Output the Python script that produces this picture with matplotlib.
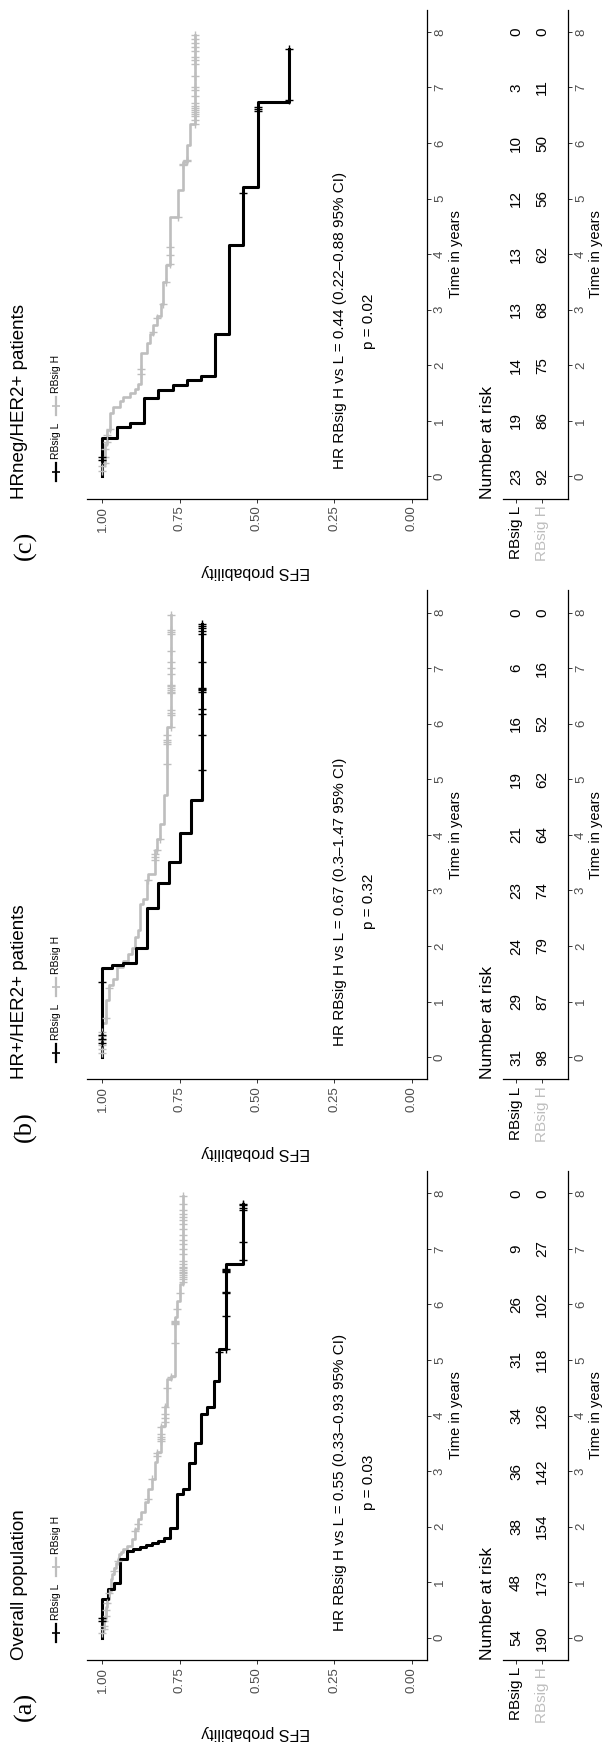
import numpy as np
import matplotlib
matplotlib.use("Agg")
import matplotlib.pyplot as plt
from matplotlib.lines import Line2D

plt.rcParams['font.family'] = ['Liberation Sans', 'DejaVu Sans']

# ---------------- data ----------------
years = [0, 1, 2, 3, 4, 5, 6, 7, 8]
groups = ["RBsig L", "RBsig H"]

# (a) overall population
a_L_t = [0.70, 0.88, 0.98, 1.42, 1.57, 1.60, 1.64, 1.67, 1.71, 1.75, 1.80, 1.97, 2.58, 2.67,
         3.14, 3.50, 4.03, 4.16, 4.63, 5.20, 6.73]
a_L_s = [0.981, 0.962, 0.943, 0.922, 0.901, 0.879, 0.860, 0.841, 0.820, 0.801, 0.782, 0.760,
         0.739, 0.720, 0.701, 0.682, 0.661, 0.640, 0.622, 0.601, 0.545]
a_L_cens = [0.30, 0.35, 5.15, 5.20, 5.80, 6.20, 6.23, 6.58, 6.60, 6.62, 6.64, 6.79, 7.12,
            7.70, 7.74, 7.78, 7.81]
a_H_t = [0.15, 0.35, 0.55, 0.70, 0.85, 1.05, 1.15, 1.25, 1.35, 1.42, 1.50, 1.55, 1.60, 1.65,
         1.78, 1.96, 2.14, 2.26, 2.44, 2.68, 2.86, 3.16, 3.34, 3.82, 4.18, 4.66, 4.72, 5.77,
         6.07, 6.37]
a_H_s = [0.995, 0.989, 0.984, 0.979, 0.973, 0.968, 0.962, 0.957, 0.951, 0.945, 0.940, 0.934,
         0.920, 0.906, 0.895, 0.884, 0.876, 0.862, 0.852, 0.841, 0.830, 0.823, 0.812, 0.798,
         0.791, 0.777, 0.766, 0.760, 0.750, 0.739]
a_H_cens = [0.08, 0.15, 0.22, 0.30, 0.40, 0.50, 0.62, 0.80, 1.20, 1.38, 1.92, 2.05, 2.50,
            2.85, 3.28, 3.33, 3.55, 3.58, 3.62, 3.66, 3.80, 3.88, 3.95, 4.02, 4.15, 4.50,
            4.70, 5.30, 5.64, 5.66, 5.68, 5.70, 5.92, 6.20, 6.40, 6.45, 6.50, 6.53, 6.56,
            6.59, 6.62, 6.65, 6.68, 6.72, 6.78, 6.90, 7.00, 7.08, 7.15, 7.25, 7.35, 7.45,
            7.52, 7.58, 7.62, 7.70, 7.80, 7.95]
a_risk_L = [54, 48, 38, 36, 34, 31, 26, 9, 0]
a_risk_H = [190, 173, 154, 142, 126, 118, 102, 27, 0]

# (b) HR+/HER2+
b_L_t = [1.60, 1.65, 1.69, 1.97, 2.68, 3.14, 3.51, 4.03, 4.62]
b_L_s = [0.968, 0.935, 0.892, 0.855, 0.820, 0.784, 0.750, 0.715, 0.677]
b_L_cens = [0.25, 0.32, 0.40, 1.36, 5.16, 5.80, 6.18, 6.27, 6.58, 6.60, 6.62, 6.64, 7.11,
            7.62, 7.67, 7.72, 7.76, 7.80]
b_H_t = [0.62, 1.02, 1.30, 1.40, 1.62, 1.73, 1.85, 1.97, 2.16, 2.28, 2.76, 2.85, 3.18, 3.30,
         3.72, 3.93, 4.20, 4.71, 5.94]
b_H_s = [0.990, 0.980, 0.966, 0.954, 0.933, 0.917, 0.906, 0.895, 0.884, 0.877, 0.870, 0.855,
         0.852, 0.830, 0.823, 0.814, 0.801, 0.791, 0.777]
b_H_cens = [0.08, 0.15, 0.22, 0.30, 0.38, 0.45, 0.70, 1.25, 3.18, 3.54, 3.60, 3.66, 3.72,
            3.93, 5.28, 5.64, 5.67, 5.70, 5.79, 5.94, 6.15, 6.20, 6.25, 6.55, 6.58, 6.61,
            6.64, 6.67, 6.70, 6.90, 7.00, 7.11, 7.30, 7.62, 7.65, 7.68, 7.95]
b_risk_L = [31, 29, 24, 23, 21, 19, 16, 6, 0]
b_risk_H = [98, 87, 79, 74, 64, 62, 52, 16, 0]

# (c) HRneg/HER2+
c_L_t = [0.69, 0.89, 0.97, 1.42, 1.56, 1.65, 1.74, 1.80, 2.56, 4.16, 5.21, 6.74]
c_L_s = [0.954, 0.911, 0.866, 0.820, 0.773, 0.728, 0.682, 0.636, 0.591, 0.545, 0.496, 0.397]
c_L_cens = [0.30, 0.35, 5.11, 6.58, 6.62, 6.65, 6.77, 7.70]
c_H_t = [0.23, 0.58, 0.83, 1.14, 1.25, 1.35, 1.43, 1.50, 1.57, 1.66, 2.23, 2.41, 2.56, 2.72,
         2.88, 3.11, 3.50, 3.80, 4.67, 5.15, 5.66, 5.96, 6.35]
c_H_s = [0.992, 0.985, 0.976, 0.965, 0.944, 0.933, 0.911, 0.895, 0.884, 0.874, 0.855, 0.847,
         0.836, 0.823, 0.812, 0.804, 0.793, 0.782, 0.755, 0.741, 0.728, 0.717, 0.699]
c_H_cens = [0.10, 0.18, 0.25, 0.35, 0.50, 0.62, 0.75, 0.85, 1.84, 1.93, 2.60, 2.85, 3.11,
            3.50, 3.83, 3.98, 4.13, 4.67, 5.60, 5.63, 5.67, 5.70, 6.35, 6.42, 6.48, 6.52,
            6.56, 6.60, 6.63, 6.67, 6.72, 6.85, 6.95, 7.00, 7.20, 7.42, 7.50, 7.55, 7.65,
            7.72, 7.80, 7.88, 7.95]
c_risk_L = [23, 19, 14, 13, 13, 12, 10, 3, 0]
c_risk_H = [92, 86, 75, 68, 62, 56, 50, 11, 0]

letters = ["(c)", "(b)", "(a)"]
titles = ["HRneg/HER2+ patients", "HR+/HER2+ patients", "Overall population"]
hr_labels = ["HR RBsig H vs L = 0.44 (0.22\u20130.88 95% CI)",
             "HR RBsig H vs L = 0.67 (0.3\u20131.47 95% CI)",
             "HR RBsig H vs L = 0.55 (0.33\u20130.93 95% CI)"]
p_labels = ["p = 0.02", "p = 0.32", "p = 0.03"]

# ---------------- layout (pixels, figure is drawn already rotated) ----------------
W, H = 606, 1742
PH = H / 3.0
GREY = "#BEBEBE"
TXT = "#4D4D4D"

fig = plt.figure(figsize=(W / 100, H / 100), dpi=100)
fig.patch.set_facecolor("white")


def fx(x):
    return x / W


def fy(y):
    return 1 - y / H


def km_line(ax, t, s, cens, color, lw):
    t = np.asarray(t)
    s = np.asarray(s)
    cens = np.asarray(cens)
    t_end = max(cens.max(), t.max())
    xs = np.r_[1.0, s, s[-1]]
    ys = np.r_[0.0, t, t_end]
    ax.plot(xs, ys, color=color, lw=lw, drawstyle="steps-pre", zorder=3)
    idx = np.searchsorted(t, cens, side="right")
    sc = np.r_[1.0, s][idx]
    ax.plot(sc, cens, ls="none", marker="+", ms=5.5, mew=1.0, color=color, zorder=4)


def style_axes(ax):
    ax.patch.set_alpha(0)
    for side in ["top", "left"]:
        ax.spines[side].set_visible(False)
    for side in ["right", "bottom"]:
        ax.spines[side].set_linewidth(0.9)
    ax.yaxis.tick_right()
    ax.set_ylim(-0.4, 8.4)
    ax.set_yticks(years)
    ax.set_yticklabels([str(y) for y in years], rotation=90, va="center")
    ax.tick_params(axis="both", length=3, width=0.7, color="#333333",
                   labelcolor=TXT, labelsize=9.5, pad=2)


def draw_panel(k, L_t, L_s, L_c, H_t, H_s, H_c, risk_L, risk_H):
    off = k * PH
    top, bot = off + 9.7, off + 498.7

    ax = fig.add_axes([fx(87), fy(bot), (427 - 87) / W, (bot - top) / H])
    style_axes(ax)
    ax.set_xlim(1.05, -0.05)
    ax.set_xticks([0, 0.25, 0.5, 0.75, 1.0])
    ax.set_xticklabels(["0.00", "0.25", "0.50", "0.75", "1.00"], rotation=90)
    km_line(ax, H_t, H_s, H_c, GREY, 1.9)
    km_line(ax, L_t, L_s, L_c, "black", 2.2)
    ax.text(0.231, 2.8, hr_labels[k], rotation=90, ha="center", va="center", fontsize=11)
    ax.text(0.137, 2.8, p_labels[k], rotation=90, ha="center", va="center", fontsize=11)

    # risk table: rows at 2 (L) and 1 (H), axis line at 0
    tab = fig.add_axes([fx(503), fy(bot), (568 - 503) / W, (bot - top) / H])
    style_axes(tab)
    tab.set_xlim(2.5, 0.0)
    tab.set_xticks([2, 1])
    tab.set_xticklabels(groups, rotation=90, fontsize=11)
    tab.get_xticklabels()[0].set_color("black")
    tab.get_xticklabels()[1].set_color(GREY)
    for i, y in enumerate(years):
        tab.text(2, y, str(risk_L[i]), rotation=90, ha="center", va="center", fontsize=11)
        tab.text(1, y, str(risk_H[i]), rotation=90, ha="center", va="center", fontsize=11)

    # texts around the panels
    fig.text(fx(456), fy(off + 254), "Time in years", rotation=90, ha="center", va="center",
             fontsize=10.5)
    fig.text(fx(596), fy(off + 254), "Time in years", rotation=90, ha="center", va="center",
             fontsize=10.5)
    fig.text(fx(487), fy(bot), "Number at risk", rotation=90, ha="center", va="bottom",
             fontsize=12.5)
    fig.text(fx(256), fy(off + 571.5), "EFS probability", rotation=180, ha="center",
             va="center", fontsize=11.5)
    fig.text(fx(20), fy(bot), titles[k], rotation=90, ha="center", va="bottom", fontsize=13.5)
    fig.text(fx(25), fy(off + 545.5), letters[k], rotation=90, ha="center", va="center",
             fontsize=19, family="Liberation Serif")

    # legend (drawn by hand, rotated): key, label, key, label
    lx = fx(56)
    for col, yc, name in [("black", off + 472, groups[0]), (GREY, off + 406, groups[1])]:
        fig.add_artist(Line2D([lx, lx], [fy(yc + 9), fy(yc - 9)], color=col, lw=1.6))
        fig.add_artist(Line2D([lx], [fy(yc)], marker="+", ms=6, mew=1.2, color=col))
        fig.text(lx, fy(yc - 13), name, rotation=90, ha="center", va="bottom", fontsize=7.5)


draw_panel(0, c_L_t, c_L_s, c_L_cens, c_H_t, c_H_s, c_H_cens, c_risk_L, c_risk_H)
draw_panel(1, b_L_t, b_L_s, b_L_cens, b_H_t, b_H_s, b_H_cens, b_risk_L, b_risk_H)
draw_panel(2, a_L_t, a_L_s, a_L_cens, a_H_t, a_H_s, a_H_cens, a_risk_L, a_risk_H)

fig.savefig("out.png", dpi=100, facecolor="white")
